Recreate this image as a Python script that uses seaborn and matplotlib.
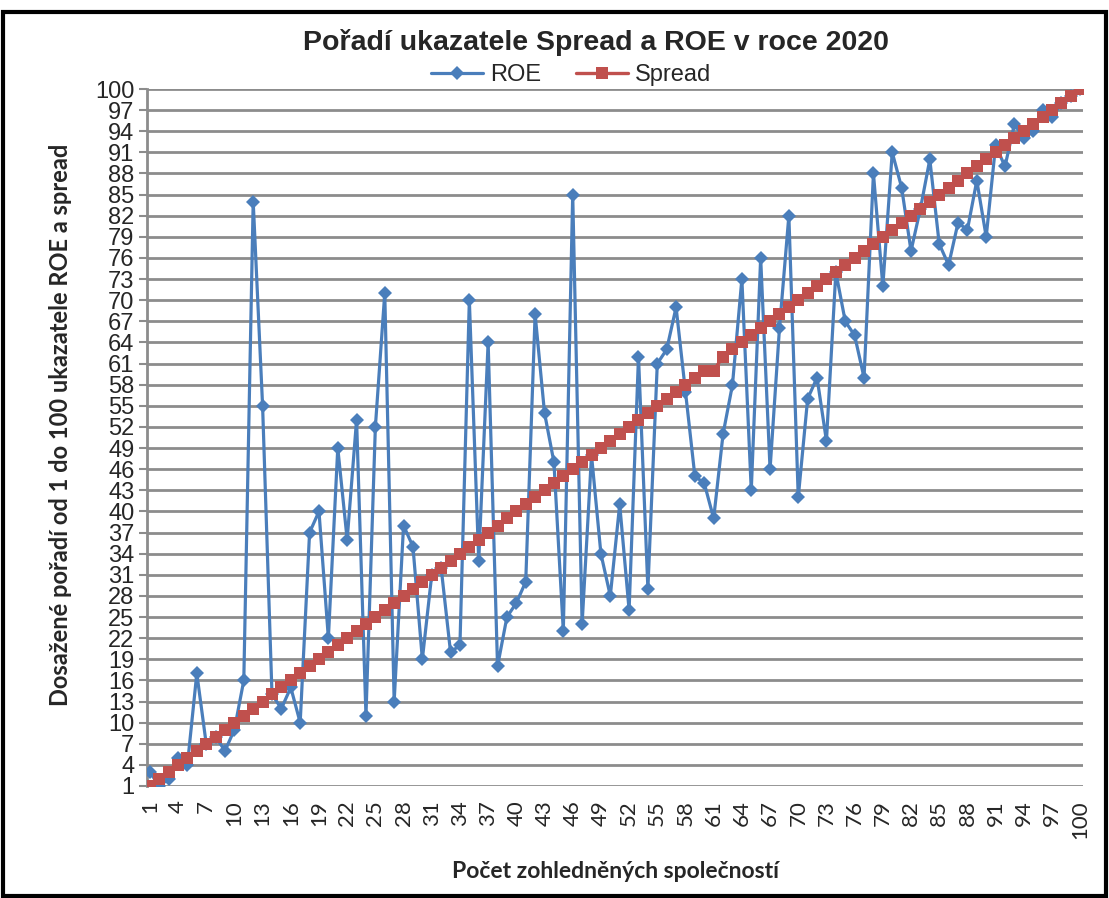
import matplotlib
matplotlib.use("Agg")
import matplotlib.pyplot as plt
import seaborn as sns
import pandas as pd
import numpy as np
from matplotlib.patches import Rectangle

companies = list(range(1, 101))
roe = [3, 1, 2, 5, 4, 17, 7, 8, 6, 9,
       16, 84, 55, 14, 12, 15, 10, 37, 40, 22,
       49, 36, 53, 11, 52, 71, 13, 38, 35, 19,
       31, 32, 20, 21, 70, 33, 64, 18, 25, 27,
       30, 68, 54, 47, 23, 85, 24, 48, 34, 28,
       41, 26, 62, 29, 61, 63, 69, 57, 45, 44,
       39, 51, 58, 73, 43, 76, 46, 66, 82, 42,
       56, 59, 50, 74, 67, 65, 59, 88, 72, 91,
       86, 77, 83, 90, 78, 75, 81, 80, 87, 79,
       92, 89, 95, 93, 94, 97, 96, 98, 99, 100]
spread = list(range(1, 60)) + [60, 60] + list(range(62, 101))
series_names = ["ROE", "Spread"]
yticks = list(range(1, 101, 3))
xticks = list(range(1, 101, 3))

title = "Pořadí ukazatele Spread a ROE v roce 2020"
xlabel = "Počet zohledněných společností"
ylabel = "Dosažené pořadí od 1 do 100 ukazatele ROE a spread"

df = pd.DataFrame({
    "x": companies * 2,
    "y": roe + spread,
    "series": [series_names[0]] * len(companies) + [series_names[1]] * len(companies),
})

sns.set_theme(style="white")
narrow = ["Liberation Sans Narrow", "Liberation Sans", "DejaVu Sans"]
plt.rcParams["font.family"] = narrow

fig = plt.figure(figsize=(11.09, 8.98), dpi=100)
ax = fig.add_axes([147 / 1109, (898 - 786) / 898, (1083 - 147) / 1109, (786 - 89) / 898])

colors = {"ROE": "#4A7EBB", "Spread": "#C0504D"}
sns.lineplot(data=df[df.series == "ROE"], x="x", y="y", ax=ax, color=colors["ROE"],
             marker="D", markersize=7, markeredgewidth=0, linewidth=2.3, label="ROE", zorder=3)
sns.lineplot(data=df[df.series == "Spread"], x="x", y="y", ax=ax, color=colors["Spread"],
             marker="s", markersize=8.5, markeredgewidth=0, linewidth=2.4, label="Spread", zorder=4)

ax.set_xlim(0.7, 100.3)
ax.set_ylim(1, 100)
ax.set_yticks(yticks)
ax.set_yticklabels([str(t) for t in yticks], fontsize=17)
ax.set_xticks(xticks)
ax.set_xticklabels([str(t) for t in xticks], rotation=90, fontsize=16,
                   family=["Lato", "DejaVu Sans"])
for t in yticks:
    ax.axhline(t, color="#8C8C8C", linewidth=2.0, zorder=1)
for s in ["top", "right", "bottom"]:
    ax.spines[s].set_visible(False)
ax.spines["left"].set_color("#8C8C8C")
ax.spines["left"].set_linewidth(2.0)
ax.tick_params(axis="y", which="major", left=True, length=6, width=1.5, color="#8C8C8C", pad=3)
ax.tick_params(axis="x", bottom=False, pad=4)
ax.grid(False)

ax.set_xlabel(xlabel, fontsize=16.5, fontweight="bold", family=["Lato", "DejaVu Sans"], labelpad=16)
ax.set_ylabel(ylabel, fontsize=17, fontweight="bold", family=["Lato", "DejaVu Sans"])
ax.yaxis.set_label_coords(-0.08, 0.518)

fig.text(0.537, 1 - 42 / 898, title, ha="center", va="center", fontsize=20.5, fontweight="bold")

handles, labels = ax.get_legend_handles_labels()
leg = fig.legend(handles, labels, loc="center", bbox_to_anchor=(0.515, 1 - 75 / 898), ncol=2,
                 frameon=False, fontsize=17, handlelength=2.2, columnspacing=1.5, handletextpad=0.3)
if ax.get_legend() is not None:
    ax.get_legend().remove()

fig.patches.append(Rectangle((0.003, 0.002), 0.994, 0.985, transform=fig.transFigure,
                             fill=False, edgecolor="black", linewidth=3))

fig.savefig("out.png", dpi=100)
